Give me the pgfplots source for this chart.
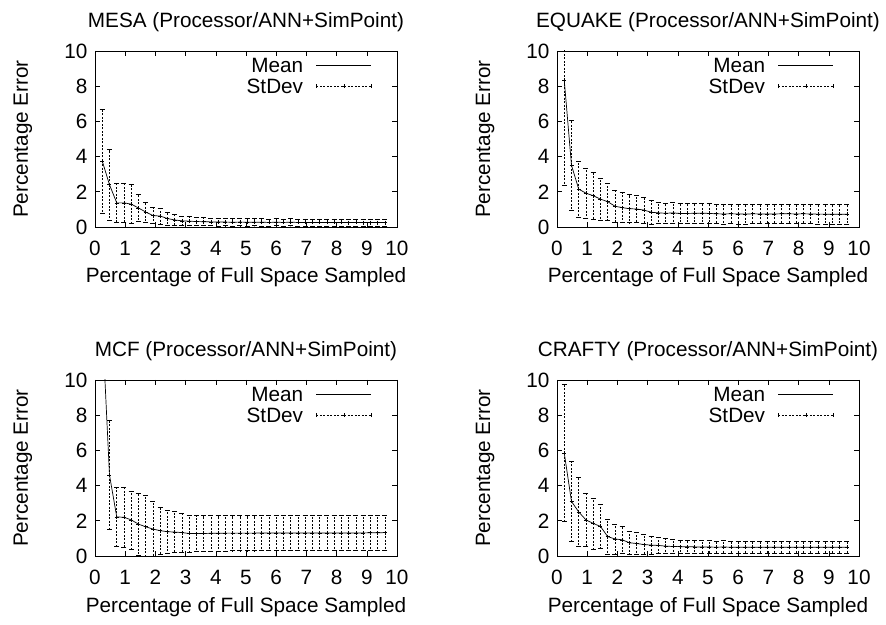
\documentclass[border=0pt]{standalone}
\usepackage{fontspec}
\setmainfont{Liberation Sans}
\usepackage{pgfplots}
\usepackage{pgfplotstable}
\pgfplotsset{compat=1.18}
\newcommand{\fs}{\fontsize{20.8}{25}\selectfont}

\pgfplotstableread{
x y e
0.24 3.75 2.95
0.48 2.40 2.00
0.72 1.37 1.13
0.96 1.37 1.10
1.20 1.30 1.10
1.44 1.08 0.75
1.68 0.85 0.58
1.92 0.65 0.45
2.16 0.62 0.45
2.40 0.48 0.38
2.64 0.40 0.32
2.88 0.35 0.28
3.12 0.33 0.26
3.36 0.31 0.24
3.60 0.30 0.23
3.84 0.29 0.22
4.08 0.28 0.22
4.32 0.28 0.21
4.56 0.27 0.21
4.80 0.28 0.21
5.04 0.27 0.21
5.28 0.27 0.20
5.52 0.27 0.21
5.76 0.26 0.20
6.00 0.27 0.20
6.24 0.26 0.20
6.48 0.27 0.20
6.72 0.26 0.20
6.96 0.26 0.20
7.20 0.26 0.20
7.44 0.26 0.20
7.68 0.26 0.20
7.92 0.26 0.20
8.16 0.26 0.20
8.40 0.25 0.20
8.64 0.26 0.20
8.88 0.25 0.20
9.12 0.25 0.20
9.36 0.25 0.20
9.60 0.25 0.20
}\mesa

\pgfplotstableread{
x y e
0.24 8.35 6.00
0.48 3.50 2.55
0.72 2.15 1.60
0.96 1.92 1.42
1.20 1.78 1.32
1.44 1.58 1.18
1.68 1.44 1.06
1.92 1.18 0.92
2.16 1.10 0.86
2.40 1.04 0.80
2.64 1.02 0.77
2.88 0.96 0.74
3.12 0.84 0.66
3.36 0.80 0.58
3.60 0.78 0.57
3.84 0.80 0.58
4.08 0.77 0.57
4.32 0.77 0.57
4.56 0.78 0.57
4.80 0.79 0.57
5.04 0.77 0.56
5.28 0.75 0.56
5.52 0.74 0.56
5.76 0.75 0.56
6.00 0.74 0.56
6.24 0.73 0.55
6.48 0.75 0.56
6.72 0.74 0.55
6.96 0.74 0.55
7.20 0.74 0.55
7.44 0.75 0.55
7.68 0.75 0.56
7.92 0.74 0.55
8.16 0.75 0.55
8.40 0.74 0.55
8.64 0.73 0.55
8.88 0.73 0.55
9.12 0.72 0.55
9.36 0.72 0.55
9.60 0.72 0.55
}\equake

\pgfplotstableread{
x y e
0.24 13.20 3.00
0.48 4.60 3.10
0.72 2.22 1.68
0.96 2.20 1.70
1.20 2.05 1.65
1.44 1.81 1.75
1.68 1.66 1.78
1.92 1.53 1.55
2.16 1.44 1.33
2.40 1.38 1.22
2.64 1.36 1.17
2.88 1.33 1.12
3.12 1.28 1.06
3.36 1.27 1.03
3.60 1.28 1.02
3.84 1.29 1.02
4.08 1.29 1.01
4.32 1.30 1.01
4.56 1.30 1.00
4.80 1.30 1.00
5.04 1.30 1.00
5.28 1.30 1.00
5.52 1.31 1.00
5.76 1.30 0.99
6.00 1.31 1.00
6.24 1.30 0.99
6.48 1.31 0.99
6.72 1.31 0.99
6.96 1.31 0.99
7.20 1.31 0.99
7.44 1.31 0.99
7.68 1.31 0.99
7.92 1.31 0.99
8.16 1.31 0.98
8.40 1.31 0.98
8.64 1.31 0.98
8.88 1.31 0.98
9.12 1.32 0.98
9.36 1.32 0.98
9.60 1.33 0.98
}\mcf

\pgfplotstableread{
x y e
0.24 5.85 3.90
0.48 3.10 2.27
0.72 2.50 1.95
0.96 2.05 1.52
1.20 1.85 1.45
1.44 1.68 1.25
1.68 1.10 1.00
1.92 0.97 0.85
2.16 0.92 0.78
2.40 0.75 0.68
2.64 0.71 0.63
2.88 0.65 0.56
3.12 0.62 0.50
3.36 0.60 0.46
3.60 0.56 0.43
3.84 0.54 0.40
4.08 0.53 0.39
4.32 0.52 0.38
4.56 0.52 0.37
4.80 0.51 0.36
5.04 0.51 0.36
5.28 0.50 0.35
5.52 0.51 0.36
5.76 0.50 0.35
6.00 0.50 0.35
6.24 0.50 0.35
6.48 0.50 0.35
6.72 0.50 0.35
6.96 0.50 0.35
7.20 0.50 0.35
7.44 0.50 0.35
7.68 0.50 0.35
7.92 0.50 0.35
8.16 0.50 0.35
8.40 0.50 0.35
8.64 0.50 0.35
8.88 0.50 0.35
9.12 0.50 0.35
9.36 0.50 0.35
9.60 0.50 0.35
}\crafty

\pgfplotsset{
  panel/.style={
    scale only axis, width=302bp,
    xmin=0, xmax=10, ymin=0, ymax=10,
    xtick={0,1,...,10}, ytick={0,2,...,10},
    axis line style={line width=0.7bp},
    every tick/.style={black, line width=0.6bp},
    major tick length=5bp,
    tick align=inside, xtick pos=both, ytick pos=both,
    /pgf/number format/assume math mode=true,
    tick label style={font=\fs, inner sep=0pt},
    xticklabel style={anchor=base, yshift=-28.3bp},
    yticklabel style={anchor=east, xshift=-7.5bp},
    xlabel={Percentage of Full Space Sampled},
    ylabel={Percentage Error},
    every axis x label/.style={at={(axis description cs:0.5,0)}, yshift=-56bp, anchor=base, font=\fs},
    every axis y label/.style={at={(axis description cs:0,0.5)}, xshift=-67bp, rotate=90, anchor=base, font=\fs},
    every axis title/.style={at={(axis description cs:0.5,1)}, yshift=23.5bp, anchor=base, font=\fs},
    legend cell align=right,
    legend plot pos=right,
    legend style={at={(axis description cs:1,1)}, anchor=north east,
      xshift=-25bp, yshift=-6.5bp, draw=none, fill=none, inner sep=0pt,
      font=\fs, row sep=6bp, column sep=13bp,
      nodes={inner sep=0pt, text height=15bp, text depth=0bp}},
  },
  meanline/.style={black, line width=0.7bp, no marks,
    legend image code/.code={\draw[black, line width=0.7bp] (0bp,0bp) -- (55bp,0bp);}},
  sdbars/.style={black, only marks, mark=+, mark size=2bp,
    mark options={line width=0.6bp, solid},
    legend image code/.code={
      \draw[black, line width=0.6bp, dash pattern=on 2bp off 1.5bp] (0bp,0bp) -- (55bp,0bp);
      \draw[black, line width=0.6bp, solid] (0bp,-2bp) -- (0bp,2bp) (55bp,-2bp) -- (55bp,2bp)
        (25.5bp,0bp) -- (29.5bp,0bp) (27.5bp,-2bp) -- (27.5bp,2bp);},
    error bars/.cd, y dir=both, y explicit,
    error bar style={line width=0.6bp, dash pattern=on 2bp off 1.5bp},
    error mark options={line width=0.6bp, solid, mark size=2.5bp, rotate=90}},
}

\begin{document}
\begin{tikzpicture}
\useasboundingbox (0bp,0bp) rectangle (886bp,625bp);

\begin{axis}[panel, at={(95bp,398bp)}, anchor=south west, height=176bp,
  title={MESA (Processor/ANN+SimPoint)}]
\addplot[meanline] table[x=x,y=y] {\mesa};
\addlegendentry{Mean}
\addplot[sdbars] table[x=x,y=y,y error=e] {\mesa};
\addlegendentry{StDev}
\end{axis}

\begin{axis}[panel, at={(557bp,398bp)}, anchor=south west, height=176bp,
  title={EQUAKE (Processor/ANN+SimPoint)}]
\addplot[meanline] table[x=x,y=y] {\equake};
\addlegendentry{Mean}
\addplot[sdbars] table[x=x,y=y,y error=e] {\equake};
\addlegendentry{StDev}
\end{axis}

\begin{axis}[panel, at={(95bp,69bp)}, anchor=south west, height=176bp,
  title={MCF (Processor/ANN+SimPoint)}]
\addplot[meanline] table[x=x,y=y] {\mcf};
\addlegendentry{Mean}
\addplot[sdbars] table[x=x,y=y,y error=e] {\mcf};
\addlegendentry{StDev}
\end{axis}

\begin{axis}[panel, at={(557bp,69bp)}, anchor=south west, height=176bp,
  title={CRAFTY (Processor/ANN+SimPoint)}]
\addplot[meanline] table[x=x,y=y] {\crafty};
\addlegendentry{Mean}
\addplot[sdbars] table[x=x,y=y,y error=e] {\crafty};
\addlegendentry{StDev}
\end{axis}
\end{tikzpicture}
\end{document}
